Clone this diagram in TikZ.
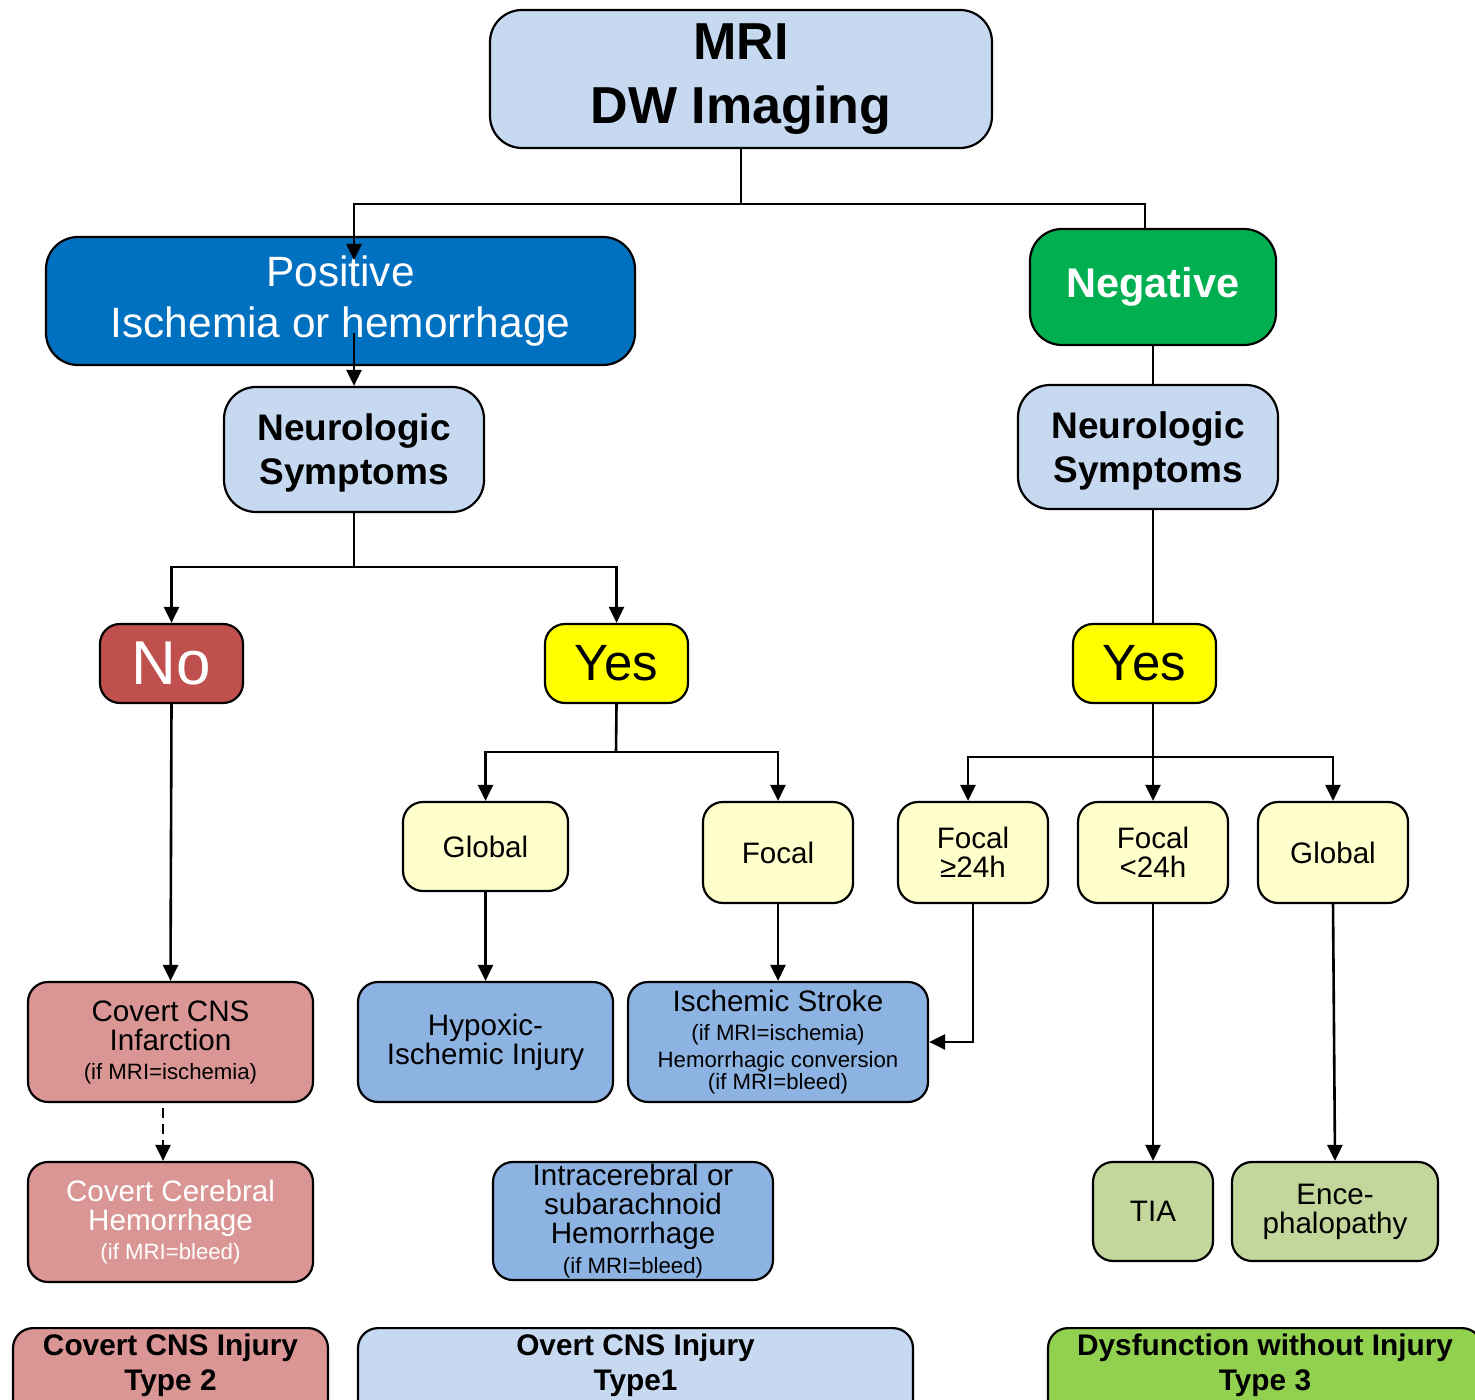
\documentclass[tikz,border=0pt]{standalone}
\usepackage{fontspec}
\setmainfont{Liberation Sans}
\usetikzlibrary{arrows.meta}
\definecolor{lblue}{HTML}{C6D9F1}
\definecolor{posblue}{HTML}{0070C0}
\definecolor{neggreen}{HTML}{00B050}
\definecolor{nored}{HTML}{C0504D}
\definecolor{yel}{HTML}{FFFF00}
\definecolor{lyel}{HTML}{FFFFCC}
\definecolor{pink}{HTML}{D99694}
\definecolor{mblue}{HTML}{8DB3E2}
\definecolor{olive}{HTML}{C3D69B}
\definecolor{bgreen}{HTML}{92D050}
\newcommand\smallf{\fontsize{11.1}{13}\selectfont}
\tikzset{
  box/.style={draw=black,line width=1.1pt,rounded corners=10pt,align=center,inner sep=1pt},
  bigbox/.style={box,rounded corners=16pt},
  fmid/.style={font=\fontsize{14.8}{14.5}\selectfont},
  fbot/.style={font=\fontsize{14.9}{17.5}\selectfont\bfseries},
  conn/.style={line width=1.3pt},
  arr/.style={conn,-{Triangle[length=8pt,width=7.5pt]}},
  botbox/.style={box,fbot,anchor=north,inner ysep=3pt,text depth=40pt},
}
\begin{document}
\begin{tikzpicture}[x=0.5pt,y=-0.5pt]
\useasboundingbox (0,0) rectangle (1475,1400);
\clip (0,0) rectangle (1475,1400);
\fill[white] (0,0) rectangle (1475,1400);

% top level
\node[bigbox,fill=lblue,minimum width=251pt,minimum height=69pt,font=\fontsize{26}{32}\selectfont\bfseries] (mri) at (741,79) {MRI\\DW Imaging};
\node[bigbox,fill=posblue,text=white,minimum width=294.5pt,minimum height=64pt,font=\fontsize{21.2}{25.5}\selectfont] (pos) at (340.5,301) {Positive\\Ischemia or hemorrhage};
\node[bigbox,fill=neggreen,text=white,minimum width=123pt,minimum height=58pt,font=\fontsize{20.75}{25}\selectfont\bfseries] (neg) at (1153,287) {Negative};
\node[bigbox,fill=lblue,minimum width=130pt,minimum height=62.5pt,text depth=0pt,font=\fontsize{18.5}{22}\selectfont\bfseries] (nsl) at (354,449.5) {Neurologic\\Symptoms};
\node[bigbox,fill=lblue,minimum width=130pt,minimum height=62pt,text depth=0pt,font=\fontsize{18.5}{22}\selectfont\bfseries] (nsr) at (1148,447) {Neurologic\\Symptoms};

% yes / no
\node[box,fill=nored,text=white,minimum width=71.5pt,minimum height=39.5pt,font=\fontsize{31}{31}\selectfont] (no) at (171.5,663.5) {No};
\node[box,fill=yel,minimum width=71.5pt,minimum height=39.5pt,font=\fontsize{25.5}{26}\selectfont] (yesl) at (616.5,663.5) {Yes};
\node[box,fill=yel,minimum width=71.5pt,minimum height=39.5pt,font=\fontsize{25.5}{26}\selectfont] (yesr) at (1144.5,663.5) {Yes};

% third row
\node[box,fill=lyel,fmid,minimum width=82.5pt,minimum height=44.5pt] (gl) at (485.5,846.5) {Global};
\node[box,fill=lyel,fmid,minimum width=75pt,minimum height=50.5pt] (fm) at (778,852.5) {Focal};
\node[box,fill=lyel,fmid,minimum width=75pt,minimum height=50.5pt] (fa) at (973,852.5) {Focal\\≥24h};
\node[box,fill=lyel,fmid,minimum width=75pt,minimum height=50.5pt] (fb) at (1153,852.5) {Focal\\<24h};
\node[box,fill=lyel,fmid,minimum width=75pt,minimum height=50.5pt] (gr) at (1333,852.5) {Global};

% outcomes
\node[box,fill=pink,fmid,minimum width=142.5pt,minimum height=60pt] (cinf) at (170.5,1042) {Covert CNS\\Infarction\\{\smallf (if MRI=ischemia)}};
\node[box,fill=mblue,fmid,minimum width=127.5pt,minimum height=60pt] (hyp) at (485.5,1042) {Hypoxic-\\Ischemic Injury};
\node[box,fill=mblue,fmid,minimum width=150pt,minimum height=60pt] (isch) at (778,1042) {Ischemic Stroke\\{\smallf (if MRI=ischemia)}\\[-1pt]{\smallf Hemorrhagic conversion}\\[-3.5pt]{\smallf (if MRI=bleed)}};
\node[box,fill=pink,fmid,text=white,minimum width=142.5pt,minimum height=60pt] (chem) at (170.5,1222) {Covert Cerebral\\Hemorrhage\\{\smallf (if MRI=bleed)}};
\node[box,fill=mblue,fmid,minimum width=140pt,minimum height=59pt] (intra) at (633,1221) {Intracerebral or\\subarachnoid\\Hemorrhage\\[0.5pt]{\smallf (if MRI=bleed)}};
\node[box,fill=olive,fmid,minimum width=60pt,minimum height=49.5pt] (tia) at (1153,1211.5) {TIA};
\node[box,fill=olive,fmid,minimum width=103pt,minimum height=49.5pt] (enc) at (1335,1211.5) {Ence-\\phalopathy};

% bottom categories
\node[botbox,fill=pink,minimum width=157.5pt] (t2) at (170.5,1327) {Covert CNS Injury\\Type 2};
\node[botbox,fill=lblue,minimum width=277.5pt] (t1) at (635.5,1327) {Overt CNS Injury\\Type1};
\node[botbox,fill=bgreen,minimum width=217pt] (t3) at (1265,1327) {Dysfunction without Injury\\Type 3};

% coordinates
\coordinate (j1) at (741,204);
\coordinate (posin) at (354,260);
\coordinate (posout) at (354,333);
\coordinate (negin) at (1145,229);
\coordinate (j2) at (354,567);
\coordinate (j3) at (616,752);
\coordinate (xr) at (1153,0);
\coordinate (j4) at (1153,757);
\coordinate (xfa) at (968,0);
\coordinate (dashx) at (163,0);
\coordinate (dashtop) at (163,1108);

% connectors
\draw[conn] (mri.south) -- (j1);
\draw[arr] (j1) -| (posin);
\draw[conn] (j1) -| (negin);
\draw[arr] (posout) -- (nsl.north);
\draw[conn] (neg.south) -- (neg.south |- nsr.north);
\draw[conn] (nsl.south) -- (j2);
\draw[arr] (j2) -| (no.north);
\draw[arr] (j2) -| (yesl.north);
\draw[conn] (nsr.south -| xr) -- (yesr.north -| xr);
\draw[arr] (no.south) -- (cinf.north);
\draw[arr,dash pattern=on 5pt off 3pt] (dashtop) -- (chem.north -| dashx);
\draw[conn] (yesl.south) -- (j3);
\draw[arr] (j3) -| (gl.north);
\draw[arr] (j3) -| (fm.north);
\draw[arr] (gl.south) -- (hyp.north);
\draw[arr] (fm.south) -- (isch.north);
\draw[conn] (yesr.south -| xr) -- (j4);
\draw[arr] (j4) -| (fa.north -| xfa);
\draw[arr] (j4) -- (fb.north);
\draw[arr] (j4) -| (gr.north);
\draw[arr] (fa.south) |- (isch.east);
\draw[arr] (fb.south) -- (tia.north);
\draw[arr] (gr.south) -- (enc.north);
\end{tikzpicture}
\end{document}
